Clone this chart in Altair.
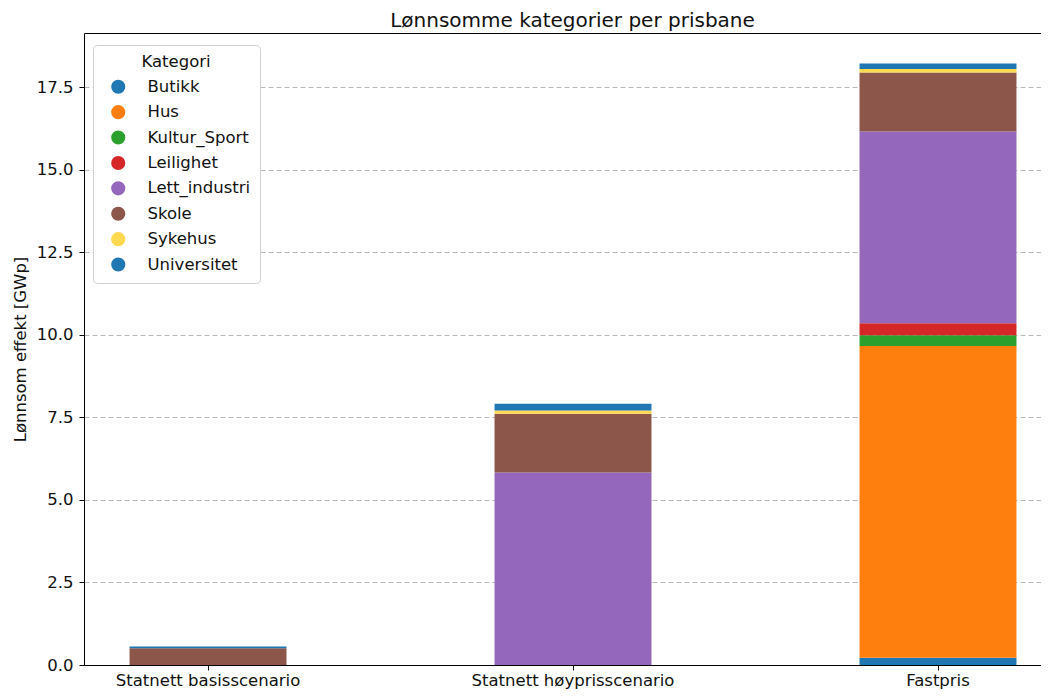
import altair as alt
import pandas as pd

scenarios = ["Statnett basisscenario", "Statnett høyprisscenario", "Fastpris"]
categories = ["Butikk", "Hus", "Kultur_Sport", "Leilighet", "Lett_industri",
              "Skole", "Sykehus", "Universitet"]
colors = ["#1f77b4", "#ff7f0e", "#2ca02c", "#d62728", "#9467bd",
          "#8c564b", "#ffd94f", "#1f77b4"]

butikk = [0.0, 0.0, 0.22]
hus = [0.0, 0.0, 9.44]
kultur_sport = [0.0, 0.0, 0.33]
leilighet = [0.0, 0.0, 0.36]
lett_industri = [0.0, 5.83, 5.81]
skole = [0.51, 1.78, 1.78]
sykehus = [0.0, 0.10, 0.11]
universitet = [0.05, 0.20, 0.17]

series = [butikk, hus, kultur_sport, leilighet, lett_industri, skole, sykehus, universitet]
y_ticks = [0.0, 2.5, 5.0, 7.5, 10.0, 12.5, 15.0, 17.5]

rows = []
for ci, (cat, vals) in enumerate(zip(categories, series)):
    for s, v in zip(scenarios, vals):
        if v > 0:
            rows.append({"Prisbane": s, "Kategori": cat, "GWp": v, "rekke": ci})
df = pd.DataFrame(rows)

FONT = "DejaVu Sans"
FS = 16.5

xscale = alt.Scale(domain=scenarios, paddingInner=0.57, paddingOuter=0.096, align=0.65)
yscale = alt.Scale(domain=[0, 19.14], nice=False, zero=True)

bars = alt.Chart(df).mark_bar().encode(
    x=alt.X("Prisbane:N", sort=scenarios, scale=xscale,
            axis=alt.Axis(title=None, labelAngle=0, labelFontSize=FS, labelColor="#111",
                          tickSize=5, tickColor="black", domainColor="black",
                          labelPadding=2, labelFont=FONT, labelLimit=500)),
    y=alt.Y("GWp:Q", stack="zero", scale=yscale,
            axis=alt.Axis(title="Lønnsom effekt [GWp]", values=y_ticks, format=".1f",
                          labelFontSize=FS, labelColor="#111", titleFontSize=FS,
                          titleFontWeight="normal", titleColor="#111", titlePadding=8,
                          labelPadding=6, tickSize=5, tickColor="black", domainColor="black",
                          grid=True, gridDash=[5, 3], gridColor="#b8b8b8",
                          labelFont=FONT, titleFont=FONT)),
    color=alt.Color("Kategori:N", sort=categories,
                    scale=alt.Scale(domain=categories, range=colors),
                    legend=alt.Legend(title="Kategori", orient="none", legendX=9, legendY=12,
                                      symbolType="circle", symbolSize=200, symbolStrokeWidth=0,
                                      symbolOffset=8,
                                      labelFontSize=FS, titleFontSize=FS,
                                      titleFontWeight="normal", titleAnchor="middle",
                                      labelFont=FONT, titleFont=FONT,
                                      labelColor="#111", titleColor="#111",
                                      rowPadding=8.4, labelOffset=21, titlePadding=8,
                                      padding=9, fillColor="white", strokeColor="#d0d0d0",
                                      cornerRadius=4, labelLimit=250)),
    order=alt.Order("rekke:Q", sort="ascending"),
)

frame = alt.Chart(df).mark_bar(opacity=0).encode(
    x=alt.X("Prisbane:N", sort=scenarios, scale=xscale,
            axis=alt.Axis(orient="top", labels=False, ticks=False, title=None,
                          domainColor="black", grid=False)),
    y=alt.Y("GWp:Q", stack="zero", scale=yscale, axis=None),
)

chart = alt.layer(bars, frame).resolve_axis(x="independent", y="independent").properties(
    width=957, height=632,
    title=alt.TitleParams("Lønnsomme kategorier per prisbane", fontSize=20,
                          fontWeight="normal", font=FONT, color="#111", dx=10, offset=2),
    autosize=alt.AutoSizeParams(type="none"),
    padding={"left": 76, "top": 25, "right": 0, "bottom": 27},
).configure_view(stroke=None)

chart.save("out.html", embed_options={"renderer": "svg", "actions": False})
